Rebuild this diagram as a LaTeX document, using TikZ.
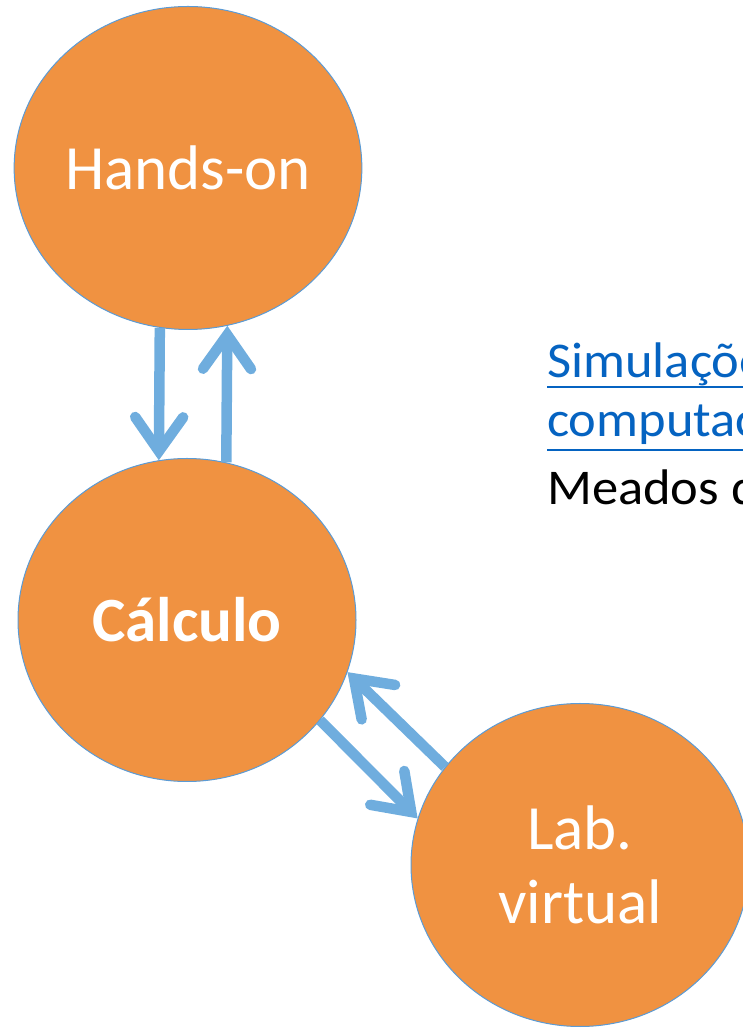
\documentclass[tikz,border=0pt]{standalone}
\usepackage{fontspec}
\setmainfont{Carlito}
\newfontfamily\notefont[FakeStretch=1.05]{Carlito}
\usetikzlibrary{arrows.meta, shapes.geometric}
\definecolor{blob}{RGB}{240,146,65}
\definecolor{rim}{RGB}{91,155,213}
\definecolor{flow}{RGB}{111,173,222}
\definecolor{link}{RGB}{5,99,193}

\tikzset{
  bubble/.style={ellipse, fill=blob, draw=rim, line width=1pt,
    minimum width=338pt, minimum height=323pt, inner sep=0pt,
    text=white, align=center, font=\fontsize{63}{74}\selectfont},
  flowarrow/.style={flow, line width=10.5pt,
    -{Straight Barb[length=34pt, width=48pt, line cap=round, line join=miter]}},
  note/.style={anchor=base west, inner sep=0pt, font=\notefont\fontsize{50}{60}\selectfont}
}

\begin{document}
\begin{tikzpicture}[x=1pt, y=1pt]
  \useasboundingbox (0,0) rectangle (743,1028);
  \clip (0,0) rectangle (743,1028);
  % Three stages
  \node[bubble] (hands) at (188,860) {Hands-on};
  \node[bubble] (calc) at (187,408) {\bfseries Cálculo};
  \node[bubble] (lab) at (580,163) {Lab.\\virtual};
  % Arrows back and forth
  \draw[flowarrow] (hands.-100) -- (calc.100);
  \draw[flowarrow] (calc.76) -- (hands.-76);
  \draw[flowarrow] (calc.-37) -- (lab.164);
  \draw[flowarrow] (lab.144) -- (calc.-18);
  % Side note
  \node[note, text=link] (sim) at (547,650) {Simulações};
  \node[note, text=link] (comp) at (547,591) {computacionais};
  \node[note] (meados) at (547,523) {Meados de};
  \draw[link, line width=2.5pt] ([yshift=-9pt]sim.base west) -- ([yshift=-9pt]sim.base east);
  \draw[link, line width=2.5pt] ([yshift=-13pt]comp.base west) -- ([yshift=-13pt]comp.base east);
\end{tikzpicture}
\end{document}
